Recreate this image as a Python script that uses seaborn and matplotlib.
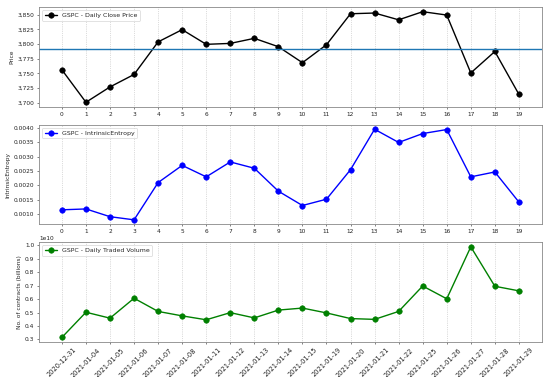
"""GSPC daily close, intrinsic entropy and traded volume, Jan 2021."""

import numpy as np
import pandas as pd
import seaborn as sns
from matplotlib import pyplot as plt
from matplotlib.ticker import FuncFormatter, MultipleLocator

plt.switch_backend("Agg")

DATES = [
    "2020-12-31", "2021-01-04", "2021-01-05", "2021-01-06", "2021-01-07",
    "2021-01-08", "2021-01-11", "2021-01-12", "2021-01-13", "2021-01-14",
    "2021-01-15", "2021-01-19", "2021-01-20", "2021-01-21", "2021-01-22",
    "2021-01-25", "2021-01-26", "2021-01-27", "2021-01-28", "2021-01-29",
]
CLOSE = [
    3756.07, 3700.65, 3726.86, 3748.14, 3803.79, 3824.68, 3799.61, 3801.19,
    3809.84, 3795.54, 3768.25, 3798.91, 3851.85, 3853.07, 3841.47, 3855.36,
    3849.62, 3750.77, 3787.38, 3714.24,
]
ENTROPY = [
    0.00115, 0.00118, 0.00091, 0.00080, 0.00210, 0.00270, 0.00230, 0.00282,
    0.00260, 0.00180, 0.00130, 0.00152, 0.00255, 0.00396, 0.00350, 0.00381,
    0.00395, 0.00230, 0.00247, 0.00142,
]
VOLUME = [
    0.315, 0.502, 0.458, 0.606, 0.508, 0.475, 0.446, 0.499, 0.460, 0.518,
    0.533, 0.497, 0.455, 0.449, 0.508, 0.697, 0.602, 0.988, 0.695, 0.661,
]


def main() -> None:
    df = pd.DataFrame({
        "idx": np.arange(len(DATES)),
        "close": CLOSE,
        "entropy": ENTROPY,
        "volume": np.array(VOLUME) * 1e10,
    })

    sns.set_style("white")
    plt.rcParams.update({
        "font.family": ["DejaVu Sans"],
        "font.size": 8.5,
        "axes.labelsize": 8.5,
        "xtick.labelsize": 8.5,
        "ytick.labelsize": 8.5,
        "axes.edgecolor": "#888888",
        "axes.linewidth": 1.2,
        "xtick.color": "#222222",
        "ytick.color": "#222222",
        "xtick.major.size": 3.5,
        "ytick.major.size": 3.5,
        "xtick.bottom": True,
        "ytick.left": True,
    })

    fig, axes = plt.subplots(3, 1, figsize=(11, 7.54), dpi=50)
    fig.subplots_adjust(left=0.071, right=0.985, top=0.981, bottom=0.093, hspace=0.18)

    series = [
        ("close", "black", "GSPC - Daily Close Price", "Price"),
        ("entropy", "blue", "GSPC - IntrinsicEntropy", "IntrinsicEntropy"),
        ("volume", "green", "GSPC - Daily Traded Volume", "No. of contracts (billions)"),
    ]
    for ax, (col, color, label, ylabel) in zip(axes, series):
        sns.lineplot(
            data=df, x="idx", y=col, ax=ax, color=color, marker="o",
            markersize=8, markeredgecolor=color, linewidth=2, label=label,
        )
        ax.set_xticks(df["idx"])
        ax.set_xlabel("")
        ax.set_ylabel(ylabel)
        ax.grid(axis="x", linestyle=":", color="#bbbbbb", linewidth=1)
        ax.legend(loc="upper left", fontsize=9)

    axes[0].axhline(np.mean(CLOSE), color="#1f77b4", linewidth=2)
    axes[0].yaxis.set_major_locator(MultipleLocator(25))
    axes[0].yaxis.set_major_formatter(FuncFormatter(lambda v, _: f"{v:,.0f}"))

    axes[1].yaxis.set_major_locator(MultipleLocator(0.0005))
    axes[1].yaxis.set_major_formatter(FuncFormatter(lambda v, _: f"{v:.4f}"))

    axes[2].yaxis.set_major_locator(MultipleLocator(1e9))
    axes[2].set_xticklabels(DATES, rotation=45, fontsize=9.5)

    fig.savefig("out.png", dpi=50)
    plt.close(fig)


if __name__ == "__main__":
    main()
